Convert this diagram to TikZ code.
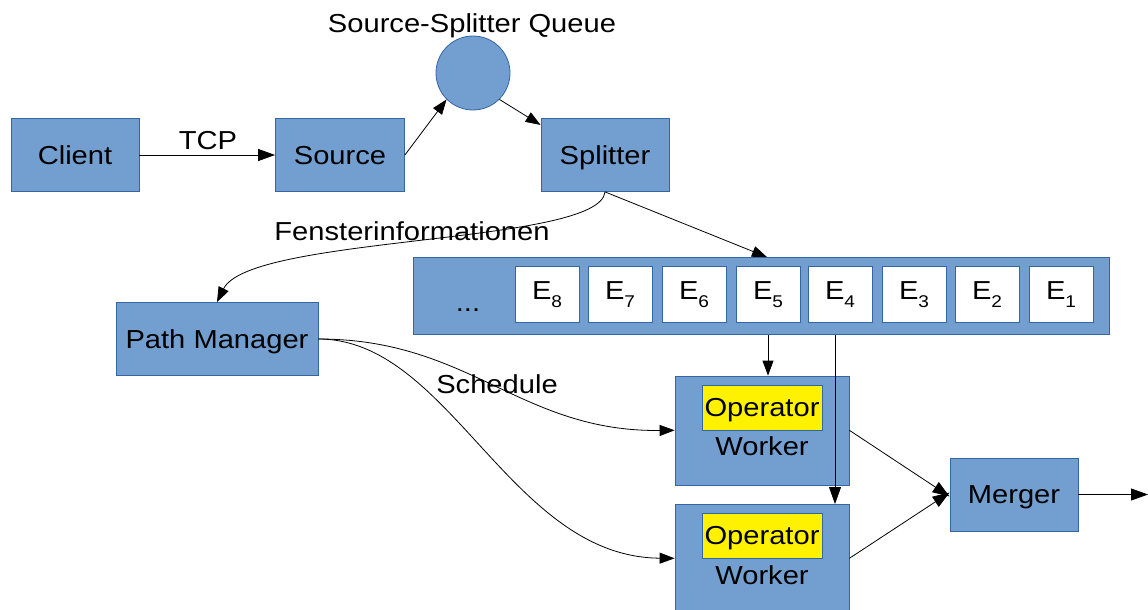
\documentclass[tikz,border=0pt]{standalone}
\usepackage{fontspec}
\setmainfont[FakeStretch=1.12]{Liberation Sans}
\usetikzlibrary{arrows.meta}
\definecolor{boxblue}{HTML}{729FCF}
\definecolor{boxedge}{HTML}{3465A4}
\begin{document}
\begin{tikzpicture}[x=1pt,y=-1pt,
  font=\fontsize{26}{30}\selectfont,
  blk/.style={draw=boxedge,fill=boxblue,line width=0.8pt,inner sep=0pt},
  ebox/.style={draw=boxedge,fill=white,line width=0.6pt,minimum width=64pt,minimum height=56pt,inner sep=0pt},
  opbox/.style={draw=boxedge,fill=yellow,line width=0.6pt,minimum width=120pt,minimum height=45pt,inner sep=0pt},
  conn/.style={line width=0.8pt,-{Triangle[length=17pt,width=12pt]}},
  sconn/.style={line width=0.8pt,-{Triangle[length=15pt,width=11pt]}},
  txt/.style={inner sep=0pt,text height=21pt,text depth=3pt}]
\useasboundingbox (0,0) rectangle (1148,610);
\newcommand{\esub}[1]{E{\fontsize{17}{17}\selectfont\raisebox{-8pt}{#1}}}

% top row
\node[blk,txt,minimum width=128pt,minimum height=73pt] (client) at (75,155) {Client};
\node[blk,txt,minimum width=129pt,minimum height=73pt] (source) at (340,155) {Source};
\node[blk,txt,minimum width=128pt,minimum height=73pt] (splitter) at (605,155) {Splitter};
\node[blk,circle,minimum size=74pt] (queue) at (473,73) {};
\node[txt] (qlabel) at (472,24) {Source-Splitter Queue};

% path manager and buffer
\node[blk,txt,minimum width=202pt,minimum height=73pt] (pm) at (217,339) {Path Manager};
\node[blk,minimum width=696pt,minimum height=77pt] (buffer) at (761,296) {};
\node[txt] (dots) at (468,302) {...};
\foreach \i/\x in {8/547,7/620,6/694,5/768,4/840,3/914,2/987,1/1061}{
  \node[ebox] (e\i) at (\x,294.5) {\esub{\i}};
}

% workers and merger
\node[blk,minimum width=174pt,minimum height=109pt] (w1) at (762,430.5) {};
\node[opbox,txt] (op1) at (762,407.5) {Operator};
\node[txt] (wl1) at (762,446) {Worker};
\node[blk,minimum width=174pt,minimum height=112pt] (w2) at (762,560) {};
\node[opbox,txt] (op2) at (762,535.5) {Operator};
\node[txt] (wl2) at (762,575) {Worker};
\node[blk,txt,minimum width=128pt,minimum height=73pt] (merger) at (1014,494.5) {Merger};
\coordinate (out) at (1148,494.5);

% labels
\node[txt] (tcp) at (208,140) {TCP};
\node[txt] (fenster) at (412,231) {Fensterinformationen};
\node[txt] (sched) at (497,384) {Schedule};

% connectors
\draw[conn] (client.east) -- (source.west);
\draw[sconn] (source.east) -- (queue.225);
\draw[sconn] (queue.315) -- (splitter.155);
\draw[sconn] (splitter.south) -- ([xshift=-1pt]e5.north |- buffer.north);
\draw[sconn] (splitter.south) .. controls (600,245) and (250,235) .. (pm.north);
\draw[sconn] (pm.east) .. controls (470,339) and (520,432) .. (w1.west |- op1.south);
\draw[sconn] (pm.east) .. controls (450,339) and (510,557) .. (w2.west |- op2.south);
\draw[sconn] (e5.south |- buffer.south) -- (e5.south |- w1.north);
\draw[conn] (835,335) -- (835,504);
\draw[conn] (w1.east |- op1.south) -- ([yshift=-2pt]merger.west);
\draw[conn] (w2.east |- op2.south) -- ([yshift=2pt]merger.west);
\draw[conn] (merger.east) -- (out);
\end{tikzpicture}
\end{document}
